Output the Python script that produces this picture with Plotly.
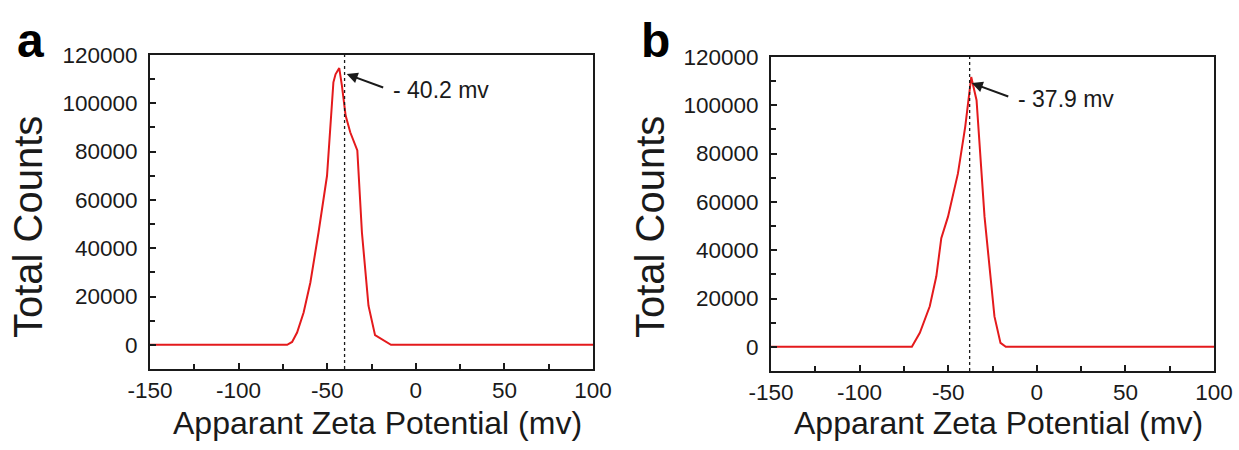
import plotly.graph_objects as go

# Zeta potential distributions for the two samples
zeta_a = [-150, -72.6, -69.8, -67.0, -63.3, -59.5, -54.9, -50.1, -46.5, -45.3, -43.2,
          -41.7, -39.6, -37.0, -33.0, -30.4, -26.7, -23.0, -14.0, 100]
counts_a = [0, 0, 1200, 5100, 13400, 25800, 46500, 70000, 108700, 112000, 114600,
            107300, 94900, 88000, 80500, 46500, 16200, 4000, 0, 0]

zeta_b = [-150, -70.5, -66.0, -60.4, -56.7, -53.9, -50.1, -44.5, -40.4, -37.0,
          -34.0, -29.5, -23.9, -20.5, -17.5, 100]
counts_b = [0, 0, 5800, 16800, 29200, 45000, 53900, 71800, 91100, 111700,
            102100, 53900, 12600, 1650, 0, 0]

# Reported zeta potentials (mV)
peak_a = -40.2
peak_b = -37.9
peak_labels = ["- 40.2 mv", "- 37.9 mv"]
panel_labels = ["a", "b"]

# Axis ticks (hyphen minus signs in the labels)
x_tickvals = [-150, -100, -50, 0, 50, 100]
x_ticktext = ["-150", "-100", "-50", "0", "50", "100"]
y_tickvals = [0, 20000, 40000, 60000, 80000, 100000, 120000]
y_ticktext = ["0", "20000", "40000", "60000", "80000", "100000", "120000"]

x_range = [-150, 100]
y_range = [-10000, 120000]
x_title = "Apparant Zeta Potential (mv)"
y_title = "Total Counts"

FONT = "Liberation Sans, Arial, sans-serif"
RED = "#e41a1c"
INK = "#1a1a1a"
W, H = 1239, 450

fig = go.Figure()

panels = [
    dict(x=zeta_a, y=counts_a, peak=peak_a, top=max(counts_a), xa="x", ya="y"),
    dict(x=zeta_b, y=counts_b, peak=peak_b, top=max(counts_b), xa="x2", ya="y2"),
]

for p in panels:
    fig.add_trace(go.Scatter(
        x=p["x"], y=p["y"], mode="lines",
        line=dict(color=RED, width=2),
        xaxis=p["xa"], yaxis=p["ya"], showlegend=False,
    ))
    fig.add_trace(go.Scatter(
        x=[p["peak"], p["peak"]], y=y_range, mode="lines",
        line=dict(color=INK, width=1.3, dash="dot"),
        xaxis=p["xa"], yaxis=p["ya"], showlegend=False,
    ))

axis_common = dict(
    showgrid=False, zeroline=False, automargin=False,
    showline=True, linecolor=INK, linewidth=2, mirror=True,
    ticks="inside", ticklen=6, tickwidth=1.5, tickcolor=INK,
    tickfont=dict(family=FONT, size=22.5, color=INK),
)

x_domains = [[150 / W, 593 / W], [771 / W, 1214 / W]]
y_domains = [[81 / H, 395 / H], [79 / H, 393 / H]]

for i, suffix in enumerate(["", "2"]):
    fig.update_layout({
        f"xaxis{suffix}": dict(
            axis_common, domain=x_domains[i], range=x_range,
            tickmode="array", tickvals=x_tickvals, ticktext=x_ticktext,
            anchor=f"y{suffix}", ticklabelstandoff=0,
            minor=dict(ticks="inside", dtick=25, tick0=-150, ticklen=5,
                       tickwidth=1.5, tickcolor=INK),
        ),
        f"yaxis{suffix}": dict(
            axis_common, domain=y_domains[i], range=y_range,
            tickmode="array", tickvals=y_tickvals, ticktext=y_ticktext,
            anchor=f"x{suffix}", ticklabelstandoff=6,
            minor=dict(ticks="inside", dtick=10000, tick0=0, ticklen=5,
                       tickwidth=1.5, tickcolor=INK),
        ),
    })

annotations = []
for i, p in enumerate(panels):
    suffix = "" if i == 0 else "2"
    # arrow pointing at the peak, label to its right
    annotations.append(dict(
        x=p["peak"] + 1.2, y=p["top"] - 2500, xref=f"x{suffix}", yref=f"y{suffix}",
        ax=38, ay=14, axref="pixel", ayref="pixel",
        text="", showarrow=True, arrowhead=2, arrowsize=1.1, arrowwidth=2,
        arrowcolor=INK,
    ))
    annotations.append(dict(
        x=p["peak"] + 1.2, y=p["top"] - 2500, xref=f"x{suffix}", yref=f"y{suffix}",
        xshift=44, yshift=-16, xanchor="left", yanchor="middle",
        text=peak_labels[i], showarrow=False,
        font=dict(family=FONT, size=23, color=INK),
    ))
    # axis titles
    xd = x_domains[i]
    annotations.append(dict(
        x=(xd[0] + xd[1]) / 2 + 6 / W, y=(H - 423) / H,
        xref="paper", yref="paper", xanchor="center", yanchor="middle",
        text=x_title, showarrow=False, borderpad=0,
        font=dict(family=FONT, size=32, color=INK),
    ))
    annotations.append(dict(
        x=(28 if i == 0 else 650) / W, y=(H - 227) / H,
        xref="paper", yref="paper", xanchor="center", yanchor="middle",
        text=y_title, textangle=-90, showarrow=False,
        font=dict(family=FONT, size=40, color=INK),
    ))
    # panel letter
    annotations.append(dict(
        x=(30 if i == 0 else 655) / W, y=(H - 40) / H,
        xref="paper", yref="paper", xanchor="center", yanchor="middle",
        text=f"<b>{panel_labels[i]}</b>", showarrow=False,
        font=dict(family=FONT, size=48, color="#000000"),
    ))

fig.update_layout(
    width=W, height=H,
    margin=dict(l=0, r=0, t=0, b=0, autoexpand=False),
    paper_bgcolor="white", plot_bgcolor="white",
    annotations=annotations,
    showlegend=False,
)

fig.write_html("out.html")
